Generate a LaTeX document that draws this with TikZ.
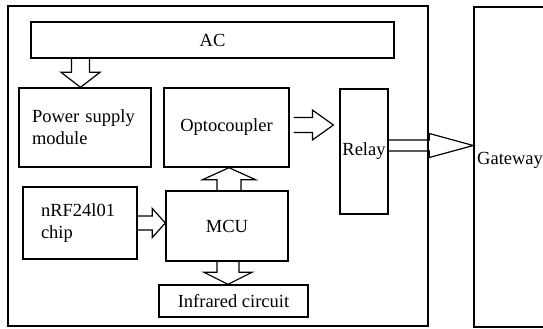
\documentclass[tikz,border=0pt]{standalone}
\usepackage{fontspec}
\setmainfont{Liberation Serif}
\usepackage{tikz}
\usetikzlibrary{calc,positioning}
\tikzset{
  block/.style={draw=black, line width=1.4pt, inner sep=1pt, font=\fontsize{18.5pt}{22pt}\selectfont},
  textblock/.style={align=left},
  fat/.style={draw=black, line width=1.2pt, line join=miter},
  label/.style={inner sep=0pt, font=\fontsize{18.5pt}{22pt}\selectfont}
}
% block arrow: from, to, stem half width, head half width, head length
\newcommand{\fatarrow}[5]{%
  \coordinate (fa-s) at (#1);
  \coordinate (fa-t) at (#2);
  \coordinate (fa-b) at ($(fa-t)!#5!(fa-s)$);
  \draw[fat] ($(fa-s)!#3!90:(fa-t)$) -- ($(fa-b)!#3!-90:(fa-s)$) -- ($(fa-b)!#4!-90:(fa-s)$) -- (fa-t)
    -- ($(fa-b)!#4!90:(fa-s)$) -- ($(fa-b)!#3!90:(fa-s)$) -- ($(fa-s)!#3!-90:(fa-t)$);
}
\begin{document}
\begin{tikzpicture}[x=1pt, y=-1pt]
  \useasboundingbox (0,0) rectangle (543,329);
  \clip (0,0) rectangle (543,329);
  \node[block, minimum width=420pt, minimum height=320pt] (unit) at (218,166) {};
  \node[block, minimum width=86pt, minimum height=320pt] (gateway) at (517,167) {};
  \node[label, anchor=west] (gwlabel) at (477,160) {Gateway};
  \node[block, minimum width=363pt, minimum height=36pt] (ac) at (212.5,40) {AC};
  \node[block, textblock, minimum width=132pt, minimum height=79pt, text width=106pt] (power) at (85,127.5) {Power supply\\module};
  \node[block, minimum width=125pt, minimum height=79pt] (opto) at (226.5,127.5) {Optocoupler};
  \node[block, line width=1.2pt, minimum width=48pt, minimum height=125pt] (relay) at (364,151.5) {Relay};
  \node[block, textblock, minimum width=114pt, minimum height=72pt, text width=78pt] (nrf) at (80,223) {nRF24l01\\chip};
  \node[block, minimum width=122pt, minimum height=70pt] (mcu) at (227,226) {MCU};
  \node[block, minimum width=149pt, minimum height=32pt] (ir) at (233.5,301) {Infrared circuit};
  \coordinate (acpw) at ($(power.north)+(-4.5,0)$);
  \coordinate (optoout) at ($(opto.east)+(4,-2.5)$);
  \coordinate (relayin) at ($(optoout -| relay.west)+(-6,0)$);
  \coordinate (relayout) at ($(relay.east)+(0,-6)$);
  \coordinate (mcuup) at ($(mcu.north)+(2,0)$);
  \coordinate (mcudown) at ($(mcu.south)+(1,0)$);
  \foreach \from/\to/\stem/\head/\len in {acpw |- ac.south/acpw/9pt/19.5pt/15pt,
      optoout/relayin/7.5pt/15pt/21pt,
      relayout/relayout -| gateway.west/5.5pt/12pt/44pt,
      nrf.east/nrf.east -| mcu.west/7pt/14.5pt/13pt,
      mcuup/mcuup |- opto.south/12pt/26.5pt/12pt,
      mcudown/mcudown |- ir.north/11pt/24pt/12pt}{
    \fatarrow{\from}{\to}{\stem}{\head}{\len}
  }
\end{tikzpicture}
\end{document}
